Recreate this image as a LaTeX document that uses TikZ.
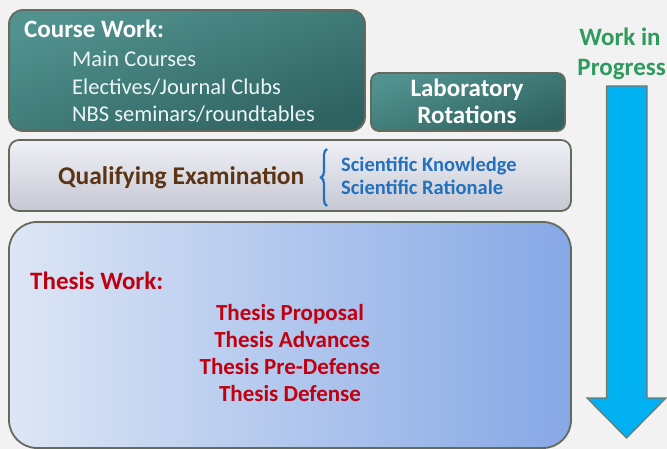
\documentclass[tikz,border=0pt]{standalone}
\usepackage{fontspec}
\setmainfont{Carlito}
\usetikzlibrary{decorations.pathreplacing}
\definecolor{bg}{HTML}{F2F2F2}
\definecolor{boxline}{HTML}{646A5E}
\definecolor{tealA}{HTML}{51928E}
\definecolor{tealB}{HTML}{2F6361}
\definecolor{grayA}{HTML}{F0F1F6}
\definecolor{grayB}{HTML}{C5C7D3}
\definecolor{blueA}{HTML}{DDE6F5}
\definecolor{blueB}{HTML}{86A8E6}
\definecolor{qbrown}{HTML}{5C3413}
\definecolor{sciblue}{HTML}{2270C0}
\definecolor{thred}{HTML}{C0000F}
\definecolor{wipgreen}{HTML}{2E9A5C}
\definecolor{arrowfill}{HTML}{00B0F0}
\definecolor{arrowline}{HTML}{767A6C}
\tikzset{
  panel/.style={draw=boxline, line width=1.8pt, rounded corners=14pt, inner sep=0pt},
  tealpanel/.style={panel, top color=tealA, bottom color=tealB, shading angle=20},
  whitebold/.style={text=white, font=\bfseries\fontsize{25}{28}\selectfont, inner sep=0pt},
  whiteitem/.style={text=white!92!teal, font=\fontsize{22.5}{25}\selectfont, inner sep=0pt, anchor=base west},
  thesisitem/.style={text=thred, font=\bfseries\fontsize{23}{26}\selectfont, inner sep=0pt, anchor=base},
  sci/.style={text=sciblue, font=\bfseries\fontsize{20.5}{23}\selectfont, inner sep=0pt, anchor=base west},
  wip/.style={text=wipgreen, font=\bfseries\fontsize{25}{28}\selectfont, inner sep=0pt}
}
\begin{document}
\begin{tikzpicture}[x=1pt,y=-1pt]
\useasboundingbox[fill=bg] (0,0) rectangle (667,449);

% Course work panel
\node[tealpanel, minimum width=356pt, minimum height=121pt] (course) at (187,70.5) {};
\node[whitebold, anchor=base west] (cwt) at (24,38) {Course Work:};
\node[whiteitem] (c1) at (72,67) {Main Courses};
\node[whiteitem] (c2) at (72,94.5) {Electives/Journal Clubs};
\node[whiteitem] (c3) at (72,122) {NBS seminars/roundtables};

% Laboratory rotations
\node[tealpanel, rounded corners=8pt, minimum width=194pt, minimum height=58pt] (lab) at (468,102) {};
\node[whitebold, anchor=base] (lab1) at (467,96.5) {Laboratory};
\node[whitebold, anchor=base] (lab2) at (467,124) {Rotations};

% Qualifying examination
\node[panel, rounded corners=10pt, top color=grayA, bottom color=grayB, minimum width=562pt, minimum height=71pt] (qual) at (290,175.5) {};
\node[text=qbrown, font=\bfseries\fontsize{25.5}{28}\selectfont, inner sep=0pt, anchor=base west] (qt) at (58,185) {Qualifying Examination};
\coordinate (brb) at (327,206);
\coordinate (brt) at (327,149);
\draw[sciblue, line width=2.2pt, decorate, decoration={brace, amplitude=6pt}] (brb) -- (brt);
\node[sci] (s1) at (341,171.5) {Scientific Knowledge};
\node[sci] (s2) at (341,195) {Scientific Rationale};

% Thesis work
\node[panel, rounded corners=28pt, left color=blueA, right color=blueB, minimum width=562pt, minimum height=226pt] (thesis) at (290,335) {};
\node[text=thred, font=\bfseries\fontsize{25}{28}\selectfont, inner sep=0pt, anchor=base west] (tw) at (30,290) {Thesis Work:};
\node[thesisitem] (t1) at (290,320) {Thesis Proposal};
\node[thesisitem] (t2) at (292,347) {Thesis Advances};
\node[thesisitem] (t3) at (290,374) {Thesis Pre-Defense};
\node[thesisitem] (t4) at (290,401.5) {Thesis Defense};

% Work in progress arrow
\node[wip, anchor=base] (wip1) at (620,46) {Work in};
\node[wip, anchor=base east] (wip2) at (666,76) {Progress};
\draw[fill=arrowfill, draw=arrowline, line width=1.3pt, line join=miter]
  (606.5,86) -- (647,86) -- (647,398) -- (666,398) -- (626.5,438) -- (587,398) -- (606.5,398) -- cycle;
\end{tikzpicture}
\end{document}
